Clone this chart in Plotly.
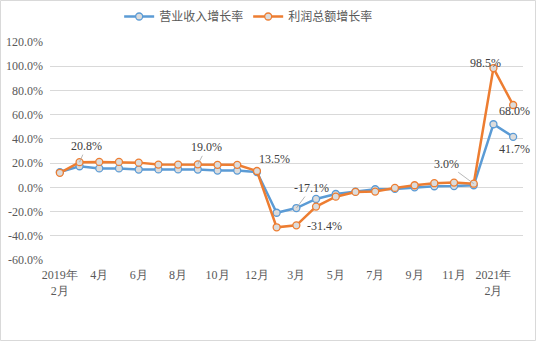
import plotly.graph_objects as go

categories = ["2019-02","2019-03","2019-04","2019-05","2019-06","2019-07","2019-08","2019-09",
              "2019-10","2019-11","2019-12","2020-02","2020-03","2020-04","2020-05","2020-06",
              "2020-07","2020-08","2020-09","2020-10","2020-11","2020-12","2021-02","2021-03"]
revenue_growth = [12.6, 17.4, 15.6, 15.6, 14.7, 14.8, 14.8, 14.7, 13.8, 13.8, 12.6, -21.0,
                  -17.1, -9.6, -5.5, -3.5, -1.6, -1.3, 0.0, 0.9, 1.0, 1.7, 52.1, 41.7]
profit_growth = [12.0, 20.8, 21.0, 21.0, 20.4, 18.8, 18.8, 19.0, 18.6, 18.6, 13.5, -33.0,
                 -31.4, -15.9, -7.7, -3.8, -3.5, -0.5, 1.7, 3.4, 3.9, 3.0, 98.5, 68.0]
tick_vals = categories[::2]
tick_text = ["2019年<br>2月","4月","6月","8月","10月","12月","3月","5月","7月","9月","11月","2021年<br>2月"]
y_ticks = [-60, -40, -20, 0, 20, 40, 60, 80, 100, 120]

BLUE = "#5B9BD5"
ORANGE = "#ED7D31"
FONT = "Liberation Serif, serif"
TXT = "#595959"

fig = go.Figure()
fig.add_trace(go.Scatter(x=categories, y=revenue_growth, name="营业收入增长率", mode="lines+markers",
                         line=dict(color=BLUE, width=2.5),
                         marker=dict(symbol="circle", size=7, color="#dcdcdc", line=dict(color=BLUE, width=1.3))))
fig.add_trace(go.Scatter(x=categories, y=profit_growth, name="利润总额增长率", mode="lines+markers",
                         line=dict(color=ORANGE, width=2.5),
                         marker=dict(symbol="circle", size=7, color="#dcdcdc", line=dict(color=ORANGE, width=1.3))))

W, H = 536, 341
ml, mr, mt, mb = 50, 13, 42, 81
pw, ph = W - ml - mr, H - mt - mb

# data labels: (series, index, ax, ay, leader)
labels = [
    (profit_growth, 1, 7, -16, True),
    (profit_growth, 7, 9, -17, True),
    (profit_growth, 10, 18, -12, False),
    (revenue_growth, 12, 15, -20, True),
    (profit_growth, 12, 28, 1, False),
    (profit_growth, 21, -27, -20, True),
    (profit_growth, 22, -8, -5, False),
    (profit_growth, 23, 1, 6, False),
    (revenue_growth, 23, 1, 12, False),
]
for series, i, ax, ay, leader in labels:
    fig.add_annotation(x=categories[i], y=series[i], text=f"{series[i]:.1f}%",
                       showarrow=leader, arrowhead=0, arrowwidth=0.8, arrowcolor="#a6a6a6",
                       ax=ax, ay=ay, standoff=0,
                       xshift=0 if leader else ax, yshift=0 if leader else -ay,
                       font=dict(family=FONT, size=12, color="#404040"))

fig.add_shape(type="rect", xref="paper", yref="paper",
              x0=-(ml - 0.5) / pw, x1=1 + (mr - 0.5) / pw,
              y0=-(mb - 0.5) / ph, y1=1 + (mt - 0.5) / ph,
              line=dict(color="#d9d9d9", width=1))

fig.update_layout(
    width=W, height=H,
    margin=dict(l=ml, r=mr, t=mt, b=mb, autoexpand=False),
    paper_bgcolor="white", plot_bgcolor="white",
    font=dict(family=FONT, size=12, color=TXT),
    showlegend=True,
    legend=dict(orientation="h", x=0.42, xanchor="center", y=1 + (mt - 2) / ph, yanchor="top",
                font=dict(family="Noto Sans CJK SC", size=12, color=TXT),
                itemwidth=30, tracegroupgap=0),
    xaxis=dict(type="category", categoryorder="array", categoryarray=categories,
               tickvals=tick_vals, ticktext=tick_text, showgrid=False, zeroline=False,
               showline=False, ticks="", tickangle=0, range=[-0.5, len(categories) - 0.5],
               automargin=False, ticklabelstandoff=6,
               tickfont=dict(family=FONT, size=12, color=TXT)),
    yaxis=dict(range=[-60, 120], tickvals=y_ticks, ticktext=[f"{v:.1f}%" for v in y_ticks],
               showgrid=True, gridcolor="#d9d9d9", gridwidth=1, zeroline=False, showline=False,
               ticks="", ticklabelstandoff=6, automargin=False,
               tickfont=dict(family=FONT, size=12, color=TXT)),
)

fig.write_html("out.html")
